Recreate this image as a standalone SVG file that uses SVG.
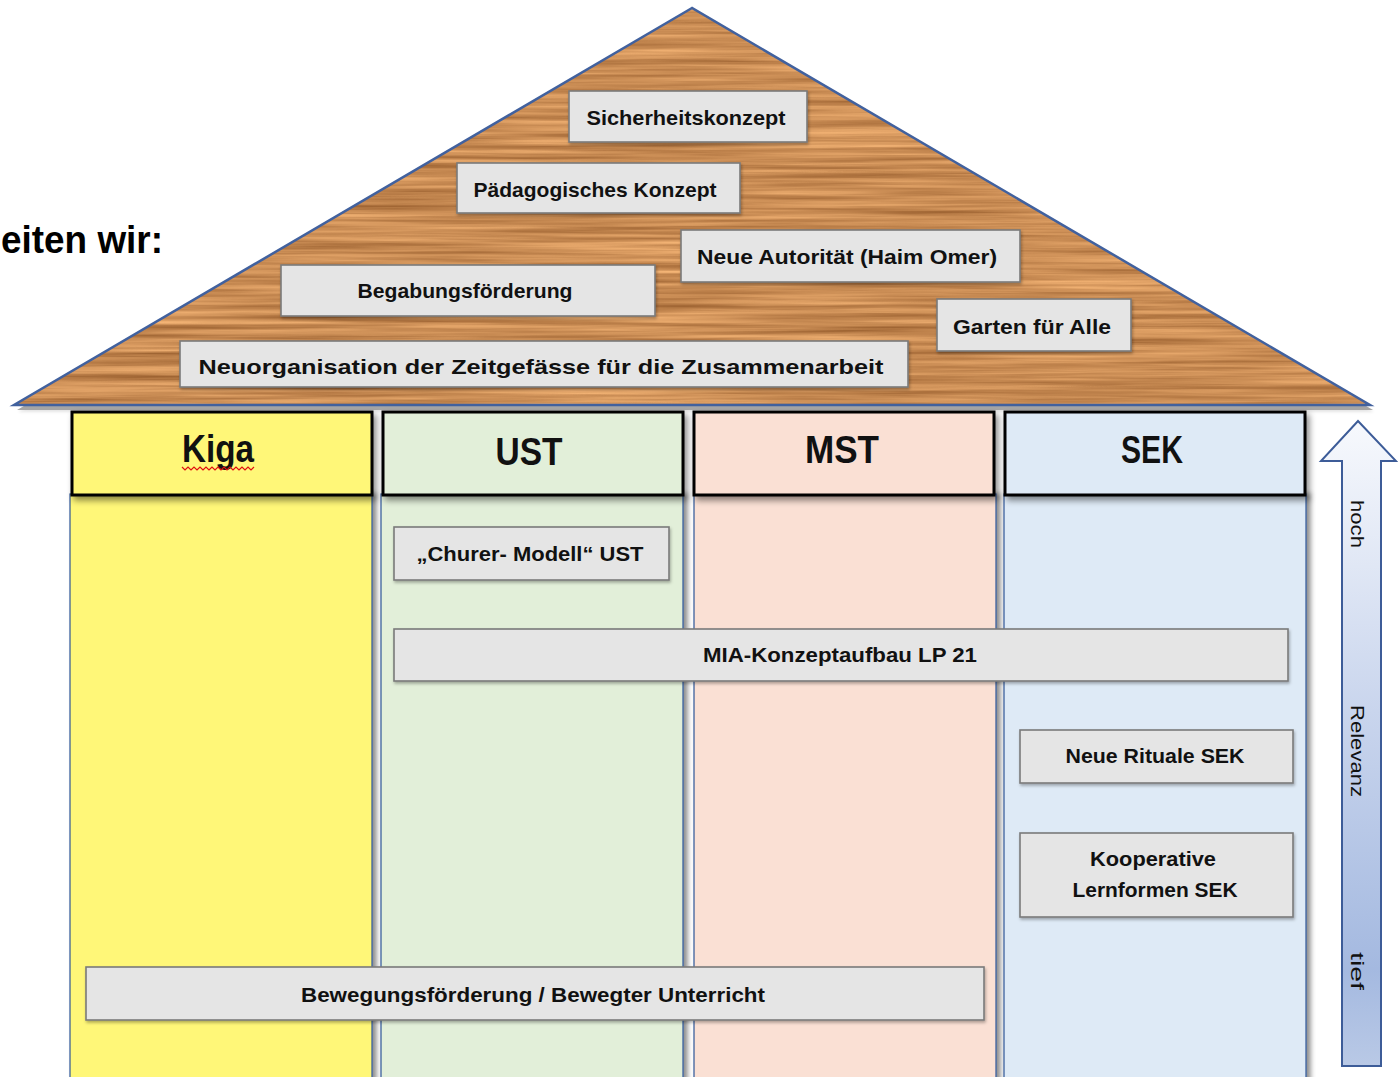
<svg xmlns="http://www.w3.org/2000/svg" width="1398" height="1077" viewBox="0 0 1398 1077">
  <defs>
    <filter id="wood" x="0" y="0" width="1" height="1" color-interpolation-filters="sRGB">
      <feTurbulence type="fractalNoise" baseFrequency="0.004 0.2" numOctaves="4" seed="7" result="n"/>
      <feColorMatrix in="n" type="matrix" values="0.45 0 0 0 0.565  0.42 0 0 0 0.34  0.35 0 0 0 0.155  0 0 0 0 1" result="c"/>
      <feComposite in="c" in2="SourceGraphic" operator="in"/>
    </filter>
    <filter id="shadow" x="-5%" y="-5%" width="115%" height="130%">
      <feDropShadow dx="3" dy="4" stdDeviation="3" flood-color="#000" flood-opacity="0.45"/>
    </filter>
    <filter id="colshadow" x="-5%" y="-2%" width="115%" height="110%">
      <feDropShadow dx="4" dy="0" stdDeviation="2.5" flood-color="#000" flood-opacity="0.45"/>
    </filter>
    <filter id="boxshadow" x="-5%" y="-10%" width="110%" height="130%">
      <feDropShadow dx="1" dy="2" stdDeviation="1.5" flood-color="#000" flood-opacity="0.3"/>
    </filter>
    <linearGradient id="arrowGrad" x1="0" y1="0" x2="0" y2="1">
      <stop offset="0" stop-color="#f7f9fd"/>
      <stop offset="0.45" stop-color="#c9d5ed"/>
      <stop offset="0.85" stop-color="#a4b9e0"/>
      <stop offset="1" stop-color="#b9c9e6"/>
    </linearGradient>
    <style>
      .box { fill: #e5e5e5; stroke: #7a7a7a; stroke-width: 1.6; }
      .lbl { font-family: "Liberation Sans", Arial, sans-serif; font-weight: bold; fill: #111; text-anchor: middle; }
      .roof { font-size: 21px; }
      .col { font-size: 20px; }
      .hdr { font-size: 38px; }
      .hbox { stroke: #000; stroke-width: 3; }
      .body { stroke: #2f5597; stroke-width: 1.2; }
      .rel { font-family: "Liberation Sans", Arial, sans-serif; font-size: 19px; fill: #111; text-anchor: middle; }
    </style>
  </defs>

  <rect x="0" y="0" width="1398" height="1077" fill="#ffffff"/>

  <text x="1" y="253" font-family="Liberation Sans, Arial, sans-serif" font-weight="bold" font-size="38" fill="#000" textLength="162" lengthAdjust="spacingAndGlyphs">eiten wir:</text>

  <!-- column bodies -->
  <g id="columns">
    <g id="col-kiga-body"><rect class="body" x="70" y="494" width="302" height="590" fill="#fff778" filter="url(#colshadow)"/></g>
    <g id="col-ust-body"><rect class="body" x="381" y="494" width="302" height="590" fill="#e2efd9" filter="url(#colshadow)"/></g>
    <g id="col-mst-body"><rect class="body" x="694" y="494" width="302" height="590" fill="#fae0d4" filter="url(#colshadow)"/></g>
    <g id="col-sek-body"><rect class="body" x="1004" y="494" width="302" height="590" fill="#deeaf6" filter="url(#colshadow)"/></g>
  </g>

  <!-- headers -->
  <g id="hdr-kiga">
    <rect class="hbox" x="72" y="412" width="300" height="83" fill="#fff778" filter="url(#shadow)"/>
    <text class="lbl hdr" x="218" y="462" textLength="72" lengthAdjust="spacingAndGlyphs">Kiga</text>
    <path d="M182 467 l3 3 l3 -3 l3 3 l3 -3 l3 3 l3 -3 l3 3 l3 -3 l3 3 l3 -3 l3 3 l3 -3 l3 3 l3 -3 l3 3 l3 -3 l3 3 l3 -3 l3 3 l3 -3 l3 3 l3 -3 l3 3 l3 -3" fill="none" stroke="#e01010" stroke-width="1.2"/>
  </g>
  <g id="hdr-ust">
    <rect class="hbox" x="383" y="412" width="300" height="83" fill="#e2efd9" filter="url(#shadow)"/>
    <text class="lbl hdr" x="529" y="465" textLength="67" lengthAdjust="spacingAndGlyphs">UST</text>
  </g>
  <g id="hdr-mst">
    <rect class="hbox" x="694" y="412" width="300" height="83" fill="#fae0d4" filter="url(#shadow)"/>
    <text class="lbl hdr" x="842" y="463" textLength="74" lengthAdjust="spacingAndGlyphs">MST</text>
  </g>
  <g id="hdr-sek">
    <rect class="hbox" x="1005" y="412" width="300" height="83" fill="#deeaf6" filter="url(#shadow)"/>
    <text class="lbl hdr" x="1152" y="463" textLength="62" lengthAdjust="spacingAndGlyphs">SEK</text>
  </g>

  <!-- roof -->
  <g id="roof">
    <polygon points="692,8 14,405 1370,405" fill="#000" opacity="0.35" transform="translate(3,5)" filter="url(#boxshadow)"/>
    <polygon points="692,8 14,405 1370,405" fill="#c88b56" filter="url(#wood)"/>
    <polygon points="692,8 14,405 1370,405" fill="none" stroke="#41619e" stroke-width="2.5" stroke-linejoin="miter"/>
  </g>

  <!-- roof items -->
  <g id="n-sicherheit">
    <rect class="box" x="569" y="91" width="238" height="51" filter="url(#boxshadow)"/>
    <text class="lbl roof" x="686" y="125" textLength="199" lengthAdjust="spacingAndGlyphs">Sicherheitskonzept</text>
  </g>
  <g id="n-paedagogik">
    <rect class="box" x="457" y="163" width="283" height="50" filter="url(#boxshadow)"/>
    <text class="lbl roof" x="595" y="197" textLength="243" lengthAdjust="spacingAndGlyphs">Pädagogisches  Konzept</text>
  </g>
  <g id="n-autoritaet">
    <rect class="box" x="681" y="230" width="339" height="52" filter="url(#boxshadow)"/>
    <text class="lbl roof" x="847" y="264" textLength="300" lengthAdjust="spacingAndGlyphs">Neue Autorität (Haim  Omer)</text>
  </g>
  <g id="n-begabung">
    <rect class="box" x="281" y="265" width="374" height="51" filter="url(#boxshadow)"/>
    <text class="lbl roof" x="465" y="298" textLength="215" lengthAdjust="spacingAndGlyphs">Begabungsförderung</text>
  </g>
  <g id="n-garten">
    <rect class="box" x="937" y="299" width="194" height="52" filter="url(#boxshadow)"/>
    <text class="lbl roof" x="1032" y="334" textLength="158" lengthAdjust="spacingAndGlyphs">Garten für Alle</text>
  </g>
  <g id="n-neuorg">
    <rect class="box" x="180" y="341" width="728" height="46" filter="url(#boxshadow)"/>
    <text class="lbl roof" x="541" y="374" font-size="22" textLength="685" lengthAdjust="spacingAndGlyphs">Neuorganisation  der Zeitgefässe  für die  Zusammenarbeit</text>
  </g>

  <!-- column items -->
  <g id="n-churer">
    <rect class="box" x="394" y="527" width="275" height="53" filter="url(#boxshadow)"/>
    <text class="lbl col" x="530" y="561" textLength="227" lengthAdjust="spacingAndGlyphs">„Churer- Modell“ UST</text>
  </g>
  <g id="n-mia">
    <rect class="box" x="394" y="629" width="894" height="52" filter="url(#boxshadow)"/>
    <text class="lbl col" x="840" y="662" textLength="274" lengthAdjust="spacingAndGlyphs">MIA-Konzeptaufbau  LP 21</text>
  </g>
  <g id="n-rituale">
    <rect class="box" x="1020" y="730" width="273" height="53" filter="url(#boxshadow)"/>
    <text class="lbl col" x="1155" y="763" textLength="179" lengthAdjust="spacingAndGlyphs">Neue Rituale SEK</text>
  </g>
  <g id="n-kooperativ">
    <rect class="box" x="1020" y="833" width="273" height="84" filter="url(#boxshadow)"/>
    <text class="lbl col" x="1153" y="866" textLength="126" lengthAdjust="spacingAndGlyphs">Kooperative</text>
    <text class="lbl col" x="1155" y="897" textLength="165" lengthAdjust="spacingAndGlyphs">Lernformen SEK</text>
  </g>
  <g id="n-bewegung">
    <rect class="box" x="86" y="967" width="898" height="53" filter="url(#boxshadow)"/>
    <text class="lbl col" x="533" y="1002" textLength="464" lengthAdjust="spacingAndGlyphs">Bewegungsförderung  / Bewegter Unterricht</text>
  </g>

  <!-- relevance arrow -->
  <g id="arrow-relevanz">
    <polygon points="1358,421 1396,461 1381,461 1381,1066 1342,1066 1342,461 1321,461" fill="url(#arrowGrad)" stroke="#3d5c98" stroke-width="2" stroke-linejoin="miter"/>
    <text class="rel" transform="translate(1357,524) rotate(90)" y="6.5" textLength="48" lengthAdjust="spacingAndGlyphs">hoch</text>
    <text class="rel" transform="translate(1357,751) rotate(90)" y="6.5" textLength="92" lengthAdjust="spacingAndGlyphs">Relevanz</text>
    <text class="rel" transform="translate(1357,971) rotate(90)" y="6.5" textLength="38" lengthAdjust="spacingAndGlyphs">tief</text>
  </g>
</svg>
